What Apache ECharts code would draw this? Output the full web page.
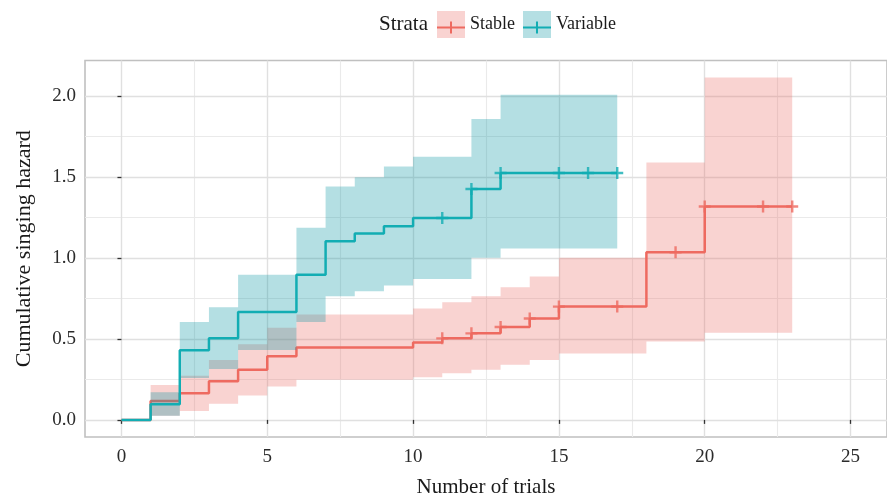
<!DOCTYPE html>
<html><head><meta charset="utf-8">
<script src="https://cdn.jsdelivr.net/npm/echarts@6/dist/echarts.min.js"></script>
<style>html,body{margin:0;padding:0;background:#fff}#c{width:887px;height:503px}</style>
</head><body><div id="c"></div>
<script>
// ---- data ----
const strata = ['Stable', 'Variable'];

const stableTime = [0, 1, 2, 3, 4, 5, 6, 10, 11, 12, 13, 14, 15, 18, 20, 23];
const stableHaz  = [0, 0.116, 0.165, 0.239, 0.31, 0.393, 0.446, 0.477, 0.503, 0.534, 0.573, 0.626, 0.699, 1.034, 1.317, 1.317];
const stableBandTime = [1, 2, 3, 4, 5, 6, 10, 11, 12, 13, 14, 15, 18, 20, 23];
const stableLower = [0.025, 0.055, 0.1, 0.151, 0.206, 0.247, 0.263, 0.287, 0.31, 0.34, 0.369, 0.41, 0.483, 0.538, 0.538];
const stableUpper = [0.216, 0.273, 0.369, 0.467, 0.569, 0.65, 0.687, 0.726, 0.763, 0.818, 0.885, 1.001, 1.588, 2.112, 2.112];
const stableCensorTime = [11, 12, 13, 14, 15, 17, 19, 20, 22, 23];
const stableCensorHaz  = [0.503, 0.534, 0.573, 0.626, 0.699, 0.699, 1.034, 1.317, 1.317, 1.317];

const variableTime = [0, 1, 2, 3, 4, 6, 7, 8, 9, 10, 12, 13, 17];
const variableHaz  = [0, 0.096, 0.43, 0.503, 0.665, 0.895, 1.103, 1.15, 1.195, 1.246, 1.425, 1.523, 1.523];
const variableBandTime = [1, 2, 3, 4, 6, 7, 8, 9, 10, 12, 13, 17];
const variableLower = [0.025, 0.259, 0.314, 0.432, 0.604, 0.763, 0.793, 0.83, 0.869, 1.001, 1.058, 1.058];
const variableUpper = [0.171, 0.604, 0.695, 0.895, 1.185, 1.44, 1.497, 1.564, 1.623, 1.857, 2.006, 2.006];
const variableCensorTime = [11, 12, 13, 15, 16, 17];
const variableCensorHaz  = [1.246, 1.425, 1.523, 1.523, 1.523, 1.523];

const xTicks = [0, 5, 10, 15, 20, 25];
const xMinorTicks = [2.5, 7.5, 12.5, 17.5, 22.5];
const yTicks = [0, 0.5, 1.0, 1.5, 2.0];
const yMinorTicks = [0.25, 0.75, 1.25, 1.75];

// ---- styling ----
const FONT = 'Liberation Serif';
const lineColor = { Stable: '#EE6A60', Variable: '#12ADB3' };
const bandColor = { Stable: 'rgba(235,108,102,0.3)', Variable: 'rgba(8,148,162,0.3)' };
const keyBg = { Stable: '#F9D3D1', Variable: '#B5DFE3' };
const plusPath = 'path://M4.8,0H7.2V4.8H12V7.2H7.2V12H4.8V7.2H0V4.8H4.8Z';
const keyPath = 'path://M0,5H13V0H15V5H28V7H15V12H13V7H0Z';

function bandSeries(name, t, lo, hi, z) {
  return {
    type: 'custom', name: name, z: z, silent: true,
    coordinateSystem: 'cartesian2d',
    data: t.map((v, i) => [v, lo[i], hi[i]]),
    encode: { x: 0, y: [1, 2] },
    renderItem: function (params, api) {
      if (params.dataIndex !== 0) return null;
      const pts = [];
      for (let i = 0; i < t.length - 1; i++) {
        pts.push(api.coord([t[i], hi[i]]));
        pts.push(api.coord([t[i + 1], hi[i]]));
      }
      for (let i = t.length - 2; i >= 0; i--) {
        pts.push(api.coord([t[i + 1], lo[i]]));
        pts.push(api.coord([t[i], lo[i]]));
      }
      return { type: 'polygon', shape: { points: pts }, style: { fill: bandColor[name] } };
    }
  };
}
function stepSeries(name, t, h, z) {
  return {
    type: 'line', name: name, step: 'end', z: z, silent: true,
    data: t.map((v, i) => [v, h[i]]),
    symbol: 'none', showSymbol: false,
    lineStyle: { color: lineColor[name], width: 2.5, type: 'solid' },
    itemStyle: { color: lineColor[name] }
  };
}
function censorSeries(name, t, h, z) {
  return {
    type: 'scatter', name: name, z: z, silent: true,
    data: t.map((v, i) => [v, h[i]]),
    symbol: plusPath, symbolSize: 12,
    itemStyle: { color: lineColor[name] }
  };
}

const gridLines = [].concat(
  xMinorTicks.map(v => ({ xAxis: v, lineStyle: { color: '#EAEAEA', width: 1.1, type: 'solid' } })),
  yMinorTicks.map(v => ({ yAxis: v, lineStyle: { color: '#EAEAEA', width: 1.1, type: 'solid' } })),
  xTicks.map(v => ({ xAxis: v, lineStyle: { color: '#E0E0E0', width: 1.4, type: 'solid' } })),
  yTicks.map(v => ({ yAxis: v, lineStyle: { color: '#E0E0E0', width: 1.4, type: 'solid' } }))
);

const legendCommon = {
  orient: 'horizontal', left: 432, itemGap: 8, itemWidth: 28,
  selectedMode: false,
  itemStyle: { borderWidth: 0 },
  textStyle: { fontFamily: FONT, fontSize: 18, color: '#1a1a1a' }
};

const chart = echarts.init(document.getElementById('c'), null, { renderer: 'canvas' });
chart.setOption({
  animation: false,
  backgroundColor: '#ffffff',
  title: {
    text: 'Strata', left: 374, top: 9,
    textStyle: { fontFamily: FONT, fontSize: 21, fontWeight: 'normal', color: '#1a1a1a' }
  },
  legend: [
    Object.assign({}, legendCommon, {
      top: 6, itemHeight: 27, icon: 'rect',
      data: strata.map(s => ({ name: s, itemStyle: { color: keyBg[s] } }))
    }),
    Object.assign({}, legendCommon, {
      top: 13.5, itemHeight: 12, icon: keyPath,
      textStyle: Object.assign({}, legendCommon.textStyle, { color: 'rgba(0,0,0,0)' }),
      data: strata.map(s => ({ name: s, itemStyle: { color: lineColor[s] } }))
    })
  ],
  grid: {
    left: 85, right: -13, top: 60.5, bottom: 62.7, containLabel: false,
    show: true, borderColor: '#C0C0C0', borderWidth: 1.6, backgroundColor: 'transparent'
  },
  xAxis: {
    type: 'value', min: -1.25, max: 26.25,
    name: 'Number of trials', nameLocation: 'middle', nameGap: 40,
    nameTextStyle: { fontFamily: FONT, fontSize: 21, color: '#1a1a1a' },
    axisLine: { show: false },
    axisTick: { show: true, length: 4, customValues: xTicks, lineStyle: { color: '#333', width: 1.3 } },
    axisLabel: { customValues: xTicks, margin: 11, fontFamily: FONT, fontSize: 19, color: '#2b2b2b',
      formatter: v => String(v) },
    splitLine: { show: false }, minorSplitLine: { show: false }
  },
  yAxis: {
    type: 'value', min: -0.1056, max: 2.2176,
    name: 'Cumulative singing hazard', nameLocation: 'middle', nameGap: 50, nameRotate: 90,
    nameTextStyle: { fontFamily: FONT, fontSize: 22, color: '#1a1a1a' },
    axisLine: { show: false },
    axisTick: { show: true, length: 4, customValues: yTicks, lineStyle: { color: '#333', width: 1.3 } },
    axisLabel: { customValues: yTicks, margin: 9, fontFamily: FONT, fontSize: 19, color: '#2b2b2b',
      formatter: v => v.toFixed(1) },
    splitLine: { show: false }, minorSplitLine: { show: false }
  },
  series: [
    { type: 'line', name: 'grid', data: [], z: 0, silent: true,
      markLine: { z: 0, silent: true, symbol: ['none', 'none'], label: { show: false }, animation: false,
        lineStyle: { type: 'solid' },
        emphasis: { disabled: true }, data: gridLines } },
    bandSeries('Stable', stableBandTime, stableLower, stableUpper, 1),
    stepSeries('Stable', stableTime, stableHaz, 2),
    bandSeries('Variable', variableBandTime, variableLower, variableUpper, 3),
    stepSeries('Variable', variableTime, variableHaz, 4),
    censorSeries('Stable', stableCensorTime, stableCensorHaz, 5),
    censorSeries('Variable', variableCensorTime, variableCensorHaz, 6)
  ]
});
</script></body></html>
